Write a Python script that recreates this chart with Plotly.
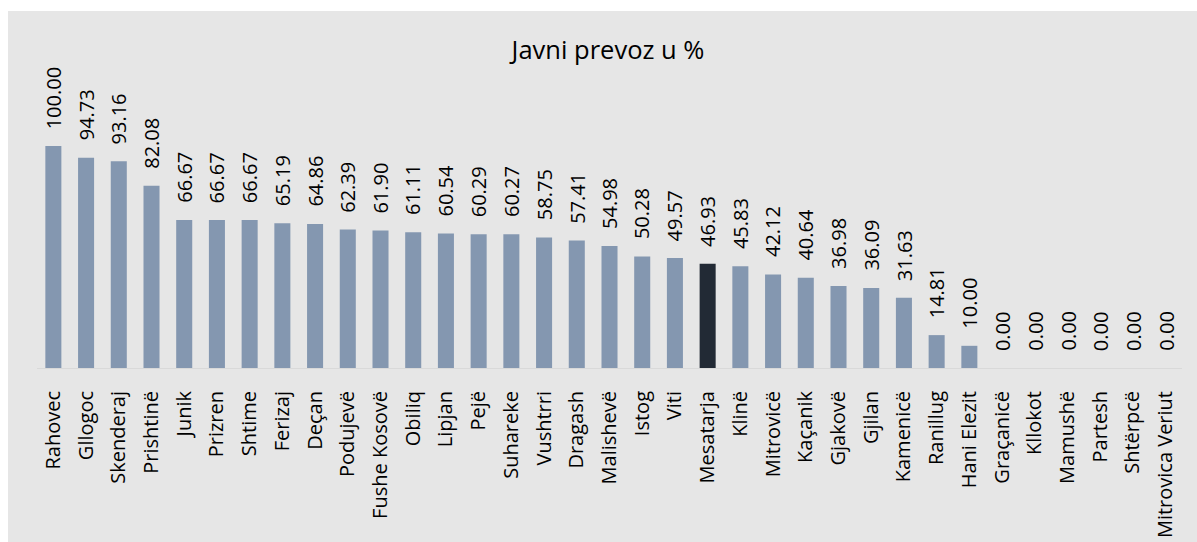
import plotly.graph_objects as go

categories = ["Rahovec", "Gllogoc", "Skenderaj", "Prishtinë", "Junik", "Prizren", "Shtime",
              "Ferizaj", "Deçan", "Podujevë", "Fushe Kosovë", "Obiliq", "Lipjan", "Pejë",
              "Suhareke", "Vushtrri", "Dragash", "Malishevë", "Istog", "Viti", "Mesatarja",
              "Klinë", "Mitrovicë", "Kaçanik", "Gjakovë", "Gjilan", "Kamenicë", "Ranillug",
              "Hani Elezit", "Graçanicë", "Kllokot", "Mamushë", "Partesh", "Shtërpcë",
              "Mitrovica Veriut"]
values = [100.00, 94.73, 93.16, 82.08, 66.67, 66.67, 66.67, 65.19, 64.86, 62.39, 61.90,
          61.11, 60.54, 60.29, 60.27, 58.75, 57.41, 54.98, 50.28, 49.57, 46.93, 45.83,
          42.12, 40.64, 36.98, 36.09, 31.63, 14.81, 10.00, 0.00, 0.00, 0.00, 0.00, 0.00, 0.00]
highlight = "Mesatarja"

W, H = 1197, 542
L, R, T, B = 37, 15, 100, 174
FONT = "Open Sans"

colors = ["#222a35" if c == highlight else "#8497b0" for c in categories]

fig = go.Figure(go.Bar(x=categories, y=values, marker=dict(color=colors, line=dict(width=0)),
                       hoverinfo="x+y"))

for c, v in zip(categories, values):
    fig.add_annotation(x=c, y=v, text=f"{v:.2f}", textangle=-90, showarrow=False,
                       yanchor="bottom", xanchor="center", yshift=15,
                       font=dict(family=FONT, size=20, color="#000000"))

pw = W - L - R
ph = H - T - B
def px_x(p):
    return (p - L) / pw
def px_y(p):
    return (H - B - p) / ph

fig.add_shape(type="rect", xref="paper", yref="paper", layer="below",
              x0=px_x(8), x1=px_x(W + 5), y0=px_y(H + 5), y1=px_y(11),
              fillcolor="#e6e6e6", line=dict(width=0))

fig.update_layout(
    width=W, height=H, autosize=False,
    margin=dict(l=L, r=R, t=T, b=B, pad=0, autoexpand=False),
    paper_bgcolor="#ffffff", plot_bgcolor="rgba(0,0,0,0)",
    bargap=0.51, showlegend=False,
    title=dict(text="Javni prevoz u %", x=(608) / W, xanchor="center",
               y=1 - 50 / H, yanchor="middle", xref="container", yref="container",
               font=dict(family=FONT, size=25.5, color="#000000"), automargin=False),
    font=dict(family=FONT, color="#000000"),
)
fig.update_xaxes(tickangle=-90, showline=True, linecolor="#d9d9d9", linewidth=1,
                 ticks="", ticklabelstandoff=14, automargin=False,
                 tickfont=dict(family=FONT, size=20, color="#000000"), showgrid=False)
fig.update_yaxes(range=[0, ph / 2.22], visible=False, showgrid=False, zeroline=False,
                 automargin=False)

fig.write_html("out.html", config={"displayModeBar": False},
               post_script="document.body.style.margin='0px';document.body.style.overflow='hidden';")
